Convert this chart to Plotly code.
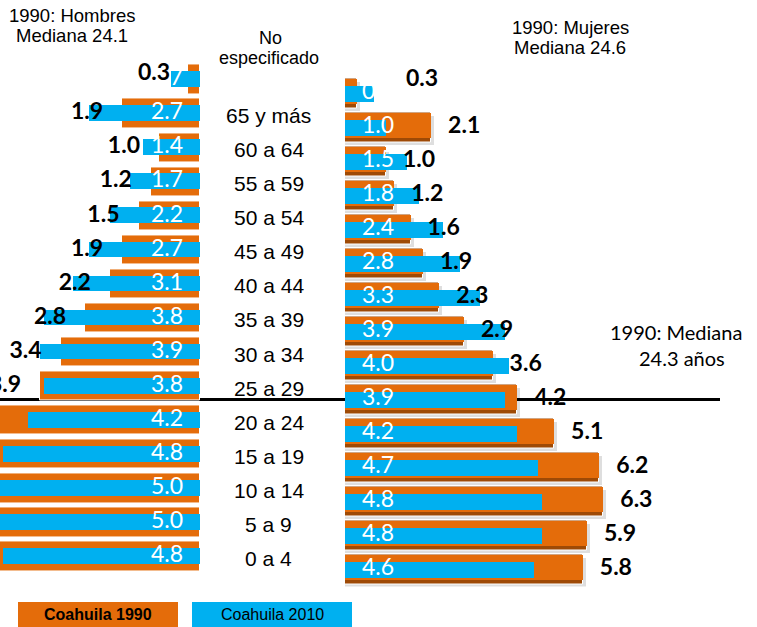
import plotly.graph_objects as go

# ---------------- data ----------------
groups = ["0 a 4", "5 a 9", "10 a 14", "15 a 19", "20 a 24", "25 a 29", "30 a 34",
          "35 a 39", "40 a 44", "45 a 49", "50 a 54", "55 a 59", "60 a 64",
          "65 y más", "No especificado"]
men_1990 = [5.9, 6.0, 6.4, 6.1, 5.0, 3.9, 3.4, 2.8, 2.2, 1.9, 1.5, 1.2, 1.0, 1.9, 0.3]
men_2010 = [4.8, 5.0, 5.0, 4.8, 4.2, 3.8, 3.9, 3.8, 3.1, 2.7, 2.2, 1.7, 1.4, 2.7, 0.7]
women_1990 = [5.8, 5.9, 6.3, 6.2, 5.1, 4.2, 3.6, 2.9, 2.3, 1.9, 1.6, 1.2, 1.0, 2.1, 0.3]
women_2010 = [4.6, 4.8, 4.8, 4.7, 4.2, 3.9, 4.0, 3.9, 3.3, 2.8, 2.4, 1.8, 1.5, 1.0, 0.7]
median_group = "25 a 29"
series_names = ["Coahuila 1990", "Coahuila 2010"]

# ---------------- styles ----------------
W, H = 757, 627
ORANGE = "#E46C0A"
ORANGE_DARK = "#9E4A06"
BLUE = "#00B0F0"
PX_PER_UNIT = 41.0
LEFT_BASE = 200
RIGHT_BASE = 345
NUM_FONT = "Lato, Carlito, Calibri, sans-serif"
ARIAL = "Liberation Sans, Arial, sans-serif"
NARROW = "Liberation Sans Narrow, Arial Narrow, Liberation Sans, sans-serif"
LBL = 23

rows = list(range(len(groups)))
fmt = lambda v: f"{v:.1f}"
unspec = groups.index("No especificado")
main_rows = [r for r in rows if r != unspec]

fig = go.Figure()

# ---- left (men) ----
fig.add_trace(go.Bar(y=rows, x=men_1990, orientation="h", xaxis="x", yaxis="y",
                     width=0.86, marker=dict(color=ORANGE, line=dict(color="white", width=1)),
                     hoverinfo="skip", showlegend=False))
fig.add_trace(go.Bar(y=rows, x=men_2010, orientation="h", xaxis="x", yaxis="y",
                     width=0.46, marker=dict(color=BLUE, line=dict(width=0)),
                     hoverinfo="skip", showlegend=False))
fig.add_trace(go.Scatter(y=rows, x=[17 / PX_PER_UNIT] * len(rows), xaxis="x", yaxis="y",
                         mode="text", text=[fmt(v) for v in men_2010], textposition="middle left",
                         textfont=dict(family=NUM_FONT, size=LBL, color="white"),
                         hoverinfo="skip", showlegend=False))
fig.add_trace(go.Scatter(y=main_rows, x=[men_1990[r] + 19 / PX_PER_UNIT for r in main_rows],
                         xaxis="x", yaxis="y", mode="text",
                         text=[fmt(men_1990[r]) for r in main_rows], textposition="middle left",
                         textfont=dict(family=NUM_FONT, size=LBL, color="black", weight="bold"),
                         hoverinfo="skip", showlegend=False))

# ---- right (women) ----
fig.add_trace(go.Bar(y=rows, x=[v + 3 / PX_PER_UNIT for v in women_1990], orientation="h",
                     xaxis="x2", yaxis="y2", width=0.86, offset=-0.5,
                     marker=dict(color="rgba(0,0,0,0.13)", line=dict(width=0)),
                     hoverinfo="skip", showlegend=False))
fig.add_trace(go.Bar(y=rows, x=women_1990, orientation="h", xaxis="x2", yaxis="y2",
                     width=0.86, offset=-0.43,
                     marker=dict(color=ORANGE_DARK, line=dict(color="white", width=1)),
                     hoverinfo="skip", showlegend=False))
fig.add_trace(go.Bar(y=rows, x=women_1990, orientation="h", xaxis="x2", yaxis="y2",
                     width=0.72, offset=-0.29,
                     marker=dict(color=ORANGE, line=dict(width=0)),
                     hoverinfo="skip", showlegend=False))
fig.add_trace(go.Bar(y=rows, x=women_2010, orientation="h", xaxis="x2", yaxis="y2",
                     width=0.45, marker=dict(color=BLUE, line=dict(width=0)),
                     hoverinfo="skip", showlegend=False))
fig.add_trace(go.Scatter(y=rows, x=[17 / PX_PER_UNIT] * len(rows), xaxis="x2", yaxis="y2",
                         mode="text", text=[fmt(v) for v in women_2010], textposition="middle right",
                         textfont=dict(family=NUM_FONT, size=LBL, color="white"),
                         hoverinfo="skip", showlegend=False))
fig.add_trace(go.Scatter(y=main_rows, x=[women_1990[r] + 17 / PX_PER_UNIT for r in main_rows],
                         xaxis="x2", yaxis="y2", mode="text",
                         text=[fmt(women_1990[r]) for r in main_rows], textposition="middle right",
                         textfont=dict(family=NUM_FONT, size=LBL, color="black", weight="bold"),
                         hoverinfo="skip", showlegend=False))

# ---------------- axes ----------------
def pdom(top_px, bottom_px):
    return [1 - bottom_px / H, 1 - top_px / H]

hidden = dict(showgrid=False, zeroline=False, showticklabels=False, showline=False, ticks="",
              fixedrange=True)
n = len(groups)
fig.update_layout(
    xaxis=dict(domain=[0, LEFT_BASE / W], range=[LEFT_BASE / PX_PER_UNIT, 0], anchor="y", **hidden),
    yaxis=dict(domain=pdom(79.5 - 17.04, 79.5 + 34.07 * (n - 1) + 17.04), range=[-0.5, n - 0.5],
               anchor="x", **hidden),
    xaxis2=dict(domain=[RIGHT_BASE / W, 1], range=[0, (W - RIGHT_BASE) / PX_PER_UNIT], anchor="y2", **hidden),
    yaxis2=dict(domain=pdom(93.5 - 17, 93.5 + 34 * (n - 1) + 17), range=[-0.5, n - 0.5],
                anchor="x2", **hidden),
)

# ---------------- annotations ----------------
ann = []
for i, g in enumerate(groups):
    if i == unspec:
        w1, w2 = g.split(" ", 1)
        ann.append(dict(xref="paper", yref="y", x=270 / W, y=i, yshift=42, text=w1, showarrow=False,
                        font=dict(family=ARIAL, size=18, color="black")))
        ann.append(dict(xref="paper", yref="y", x=269 / W, y=i, yshift=22, text=w2, showarrow=False,
                        font=dict(family=ARIAL, size=18, color="black")))
    else:
        ann.append(dict(xref="paper", yref="y", x=268.5 / W, y=i, yshift=-2, text=g, showarrow=False,
                        font=dict(family=ARIAL, size=21, color="black")))

# 1990 labels of the "No especificado" row sit raised above their tiny bars
ann.append(dict(xref="x", yref="y", x=men_1990[unspec] + 16 / PX_PER_UNIT, y=unspec, yshift=9,
                xanchor="right", text=fmt(men_1990[unspec]), showarrow=False,
                font=dict(family=NUM_FONT, size=LBL, color="black", weight="bold")))
ann.append(dict(xref="x2", yref="y2", x=women_2010[unspec] + 30 / PX_PER_UNIT, y=unspec, yshift=17,
                xanchor="left", text=fmt(women_1990[unspec]), showarrow=False,
                font=dict(family=NUM_FONT, size=LBL, color="black", weight="bold")))

def txt(x, y, t, size, family=ARIAL, **kw):
    return dict(xref="paper", yref="paper", x=x / W, y=1 - y / H, text=t, showarrow=False,
                xanchor="center", yanchor="middle", font=dict(family=family, size=size, color="black"), **kw)

ann += [
    txt(72, 16, "1990: Hombres", 18.5),
    txt(72, 36, "Mediana 24.1", 18.5),
    txt(570, 27, "1990: Mujeres", 18.5),
    txt(570, 47, "Mediana 24.6", 18.5),
    txt(676, 332, "1990: Mediana", 20, family=NUM_FONT),
    txt(682, 358, "24.3 años", 20, family=NUM_FONT),
    txt(98, 614, "<b>" + series_names[0] + "</b>", 16, family=NARROW),
    txt(272, 614, series_names[1], 16, family=NARROW),
]

shapes = [
    dict(type="line", xref="paper", yref="y2", x0=0, x1=720 / W,
         y0=groups.index(median_group), y1=groups.index(median_group),
         line=dict(color="black", width=3), layer="below"),
    dict(type="rect", xref="paper", yref="paper", x0=18 / W, x1=178 / W, y0=0, y1=1 - 602 / H,
         fillcolor=ORANGE, line=dict(width=0), layer="below"),
    dict(type="rect", xref="paper", yref="paper", x0=192 / W, x1=352 / W, y0=0, y1=1 - 602 / H,
         fillcolor=BLUE, line=dict(width=0), layer="below"),
]

fig.update_layout(
    width=W, height=H, autosize=False,
    margin=dict(l=0, r=0, t=0, b=0, pad=0),
    barmode="overlay", bargap=0,
    paper_bgcolor="white", plot_bgcolor="rgba(0,0,0,0)",
    annotations=ann, shapes=shapes, showlegend=False,
)

fig.write_html("out.html", config={"displayModeBar": False},
               post_script="document.body.style.margin='0';document.body.style.overflow='hidden';")
